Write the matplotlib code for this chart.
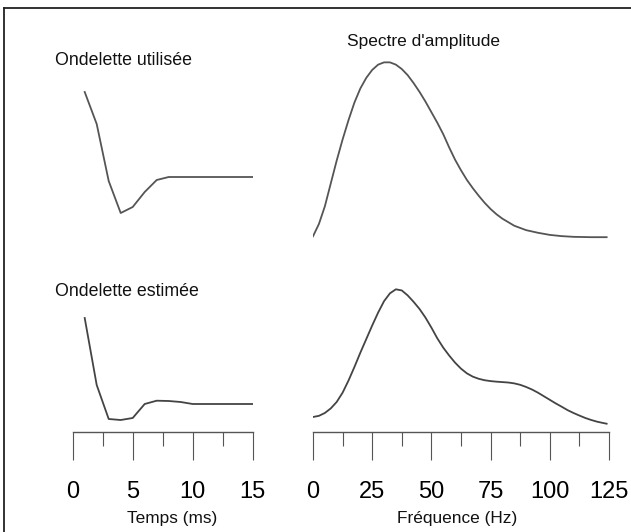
import matplotlib
matplotlib.use("Agg")
import matplotlib.pyplot as plt
from matplotlib.ticker import MultipleLocator

plt.rcParams['font.family'] = ['Liberation Sans', 'DejaVu Sans']

# ondelettes (temps en ms, amplitude relative)
t_ms = [1, 2, 3, 4, 5, 6, 7, 8, 9, 10, 11, 12, 13, 14, 15]
ond_utilisee = [0.85, 0.53, -0.04, -0.36, -0.30, -0.15, -0.03, 0.0, 0.0, 0.0, 0.0, 0.0, 0.0, 0.0, 0.0]
ond_estimee = [0.86, 0.19, -0.15, -0.16, -0.14, 0.0, 0.033, 0.03, 0.02, 0.0, 0.0, 0.0, 0.0, 0.0, 0.0]

# spectres d'amplitude (Hz)
f_util = [0, 2.5, 5, 7.5, 10, 12.5, 15, 17.5, 20, 22.5, 25, 27.5, 30, 32.5, 35, 37.5, 40,
          42.5, 45, 47.5, 50, 52.5, 55, 57.5, 60, 62.5, 65, 67.5, 70, 72.5, 75, 77.5, 80,
          85, 90, 95, 100, 105, 110, 117.5, 124]
sp_util = [0.01, 0.08, 0.18, 0.31, 0.44, 0.56, 0.67, 0.77, 0.85, 0.91, 0.955, 0.985, 0.998,
           0.998, 0.985, 0.96, 0.925, 0.88, 0.83, 0.775, 0.715, 0.655, 0.59, 0.515, 0.445,
           0.385, 0.33, 0.283, 0.24, 0.2, 0.165, 0.135, 0.11, 0.07, 0.045, 0.03, 0.018,
           0.011, 0.007, 0.005, 0.005]
f_est = [0, 2.5, 5, 7.5, 10, 12.5, 15, 17.5, 20, 22.5, 25, 27.5, 30, 32.5, 35, 37.5, 40,
         42.5, 45, 47.5, 50, 52.5, 55, 57.5, 60, 62.5, 65, 67.5, 70, 72.5, 75, 77.5, 80,
         82.5, 85, 87.5, 90, 92.5, 95, 97.5, 100, 102.5, 105, 107.5, 110, 112.5, 115,
         117.5, 120, 122.5, 124]
sp_est = [0.105, 0.113, 0.133, 0.165, 0.21, 0.275, 0.36, 0.455, 0.555, 0.65, 0.745, 0.835,
          0.915, 0.97, 0.998, 0.99, 0.955, 0.91, 0.86, 0.8, 0.73, 0.655, 0.59, 0.535, 0.485,
          0.443, 0.41, 0.387, 0.372, 0.362, 0.356, 0.352, 0.349, 0.346, 0.34, 0.33, 0.315,
          0.297, 0.275, 0.25, 0.225, 0.2, 0.177, 0.153, 0.133, 0.115, 0.098, 0.084, 0.072,
          0.063, 0.058]

t_ticks = [0, 5, 10, 15]
f_ticks = [0, 25, 50, 75, 100, 125]

W, H = 631, 532
fig = plt.figure(figsize=(W / 100, H / 100), dpi=100, facecolor='white')

def rect(x0, y0, x1, y1):
    # pixel box -> figure fraction
    return [x0 / W, 1 - y1 / H, (x1 - x0) / W, (y1 - y0) / H]

# cadre (gauche + haut)
frame = fig.add_axes(rect(3.5, 8, W, H))
frame.set_xticks([]), frame.set_yticks([])
frame.patch.set_alpha(0)
for s in ['right', 'bottom']:
    frame.spines[s].set_visible(False)
for s in ['left', 'top']:
    frame.spines[s].set_linewidth(1.3)
    frame.spines[s].set_color('#222222')

lc = '#555555'
lw = 1.3

ax1 = fig.add_axes(rect(72.7, 40, 252.7, 240))
ax1.plot(t_ms, ond_utilisee, color=lc, lw=lw)
ax1.set_xlim(0, 15), ax1.set_ylim(-0.63, 1.37)
ax1.axis('off')

ax2 = fig.add_axes(rect(313, 40, 609, 240))
ax2.plot(f_util, sp_util, color=lc, lw=lw)
ax2.set_xlim(0, 125), ax2.set_ylim(-0.011, 1.125)
ax2.axis('off')

ax3 = fig.add_axes(rect(72.7, 270, 252.7, 432))
ax3.plot(t_ms, ond_estimee, color='#444444', lw=lw)
ax3.set_xlim(0, 15), ax3.set_ylim(-0.28, 1.34)

ax4 = fig.add_axes(rect(313, 270, 609, 432))
ax4.plot(f_est, sp_est, color='#444444', lw=lw)
ax4.set_xlim(0, 125), ax4.set_ylim(0, 1.133)

for ax, ticks, minor in [(ax3, t_ticks, 2.5), (ax4, f_ticks, 12.5)]:
    for s in ['left', 'right', 'top']:
        ax.spines[s].set_visible(False)
    ax.spines['bottom'].set_color('#555555')
    ax.spines['bottom'].set_linewidth(1.0)
    ax.patch.set_alpha(0)
    ax.set_yticks([])
    ax.set_xticks(ticks)
    ax.xaxis.set_minor_locator(MultipleLocator(minor))
    ax.tick_params(axis='x', which='major', length=20.2, width=0.8, color='#555555',
                   pad=15, labelsize=17, labelcolor='black')
    ax.tick_params(axis='x', which='minor', length=10, width=0.8, color='#555555')

fig.text(55 / W, 1 - 65 / H, 'Ondelette utilisée', fontsize=12.8, va='baseline', color='#111111')
fig.text(55 / W, 1 - 296 / H, 'Ondelette estimée', fontsize=12.8, va='baseline', color='#111111')
fig.text(347 / W, 1 - 45.7 / H, "Spectre d'amplitude", fontsize=12.5, va='baseline', color='#111111')
fig.text(172 / W, 1 - 518 / H, 'Temps (ms)', fontsize=12.4, ha='center', va='center', color='#111111')
fig.text(457 / W, 1 - 518 / H, 'Fréquence (Hz)', fontsize=12.4, ha='center', va='center', color='#111111')

fig.savefig('out.png', dpi=100, facecolor='white')
